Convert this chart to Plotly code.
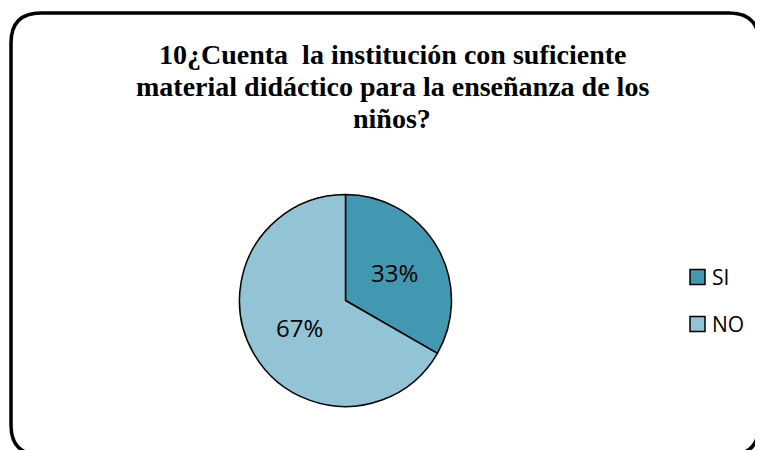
import plotly.graph_objects as go

OFF = 8  # default page body margin
W, H = 763 - OFF, 450 - OFF

labels = ["SI", "NO"]
values = [33.3, 66.7]
colors = ["#4398B1", "#93C4D6"]
title_lines = ["10¿Cuenta  la institución con suficiente",
               "material didáctico para la enseñanza de los",
               "niños?"]

def px(x):
    return (x - OFF) / W

def py(y):
    return 1 - (y - OFF) / H

cx, cy, r = 345.5, 300.5, 106

fig = go.Figure()
fig.add_trace(go.Pie(
    labels=labels, values=values, sort=False, direction="clockwise", rotation=0,
    marker=dict(colors=colors, line=dict(color="black", width=1.5)),
    texttemplate="%{percent:.0%}", textposition="inside",
    insidetextfont=dict(family="Open Sans", size=24, color="black"),
    domain=dict(x=[px(cx - r), px(cx + r)], y=[py(cy + r), py(cy - r)]),
    showlegend=False, hoverinfo="label+percent",
))

# rounded border
L, T, R, B, rad = 11, 13, 759, 455, 30
path = (f"M {px(L)},{py(T+rad)} Q {px(L)},{py(T)} {px(L+rad)},{py(T)} "
        f"L {px(R-rad)},{py(T)} Q {px(R)},{py(T)} {px(R)},{py(T+rad)} "
        f"L {px(R)},{py(B-rad)} Q {px(R)},{py(B)} {px(R-rad)},{py(B)} "
        f"L {px(L+rad)},{py(B)} Q {px(L)},{py(B)} {px(L)},{py(B-rad)} Z")
shapes = [dict(type="path", xref="paper", yref="paper", path=path,
               line=dict(color="black", width=3.5))]

# legend drawn manually
annotations = []
leg_y = [277, 324]
for lab, col, yy in zip(labels, colors, leg_y):
    shapes.append(dict(type="rect", xref="paper", yref="paper",
                       x0=px(690), x1=px(705), y0=py(yy - 7.5), y1=py(yy + 7.5),
                       fillcolor=col, line=dict(color="black", width=1.5)))
    annotations.append(dict(text=lab, x=px(710), y=py(yy), xref="paper", yref="paper",
                            xanchor="left", yanchor="middle", showarrow=False,
                            font=dict(family="Open Sans", size=21, color="black")))

for i, line in enumerate(title_lines):
    annotations.append(dict(text="<b>" + line + "</b>",
                            x=px(392), y=py(55 + 31.5 * i), xref="paper", yref="paper",
                            xanchor="center", yanchor="middle", showarrow=False,
                            font=dict(family="Liberation Serif", size=28, color="black")))

fig.update_layout(
    width=W, height=H,
    margin=dict(l=0, r=0, t=0, b=0),
    paper_bgcolor="white", plot_bgcolor="white",
    shapes=shapes, annotations=annotations,
)

fig.write_html("out.html")
